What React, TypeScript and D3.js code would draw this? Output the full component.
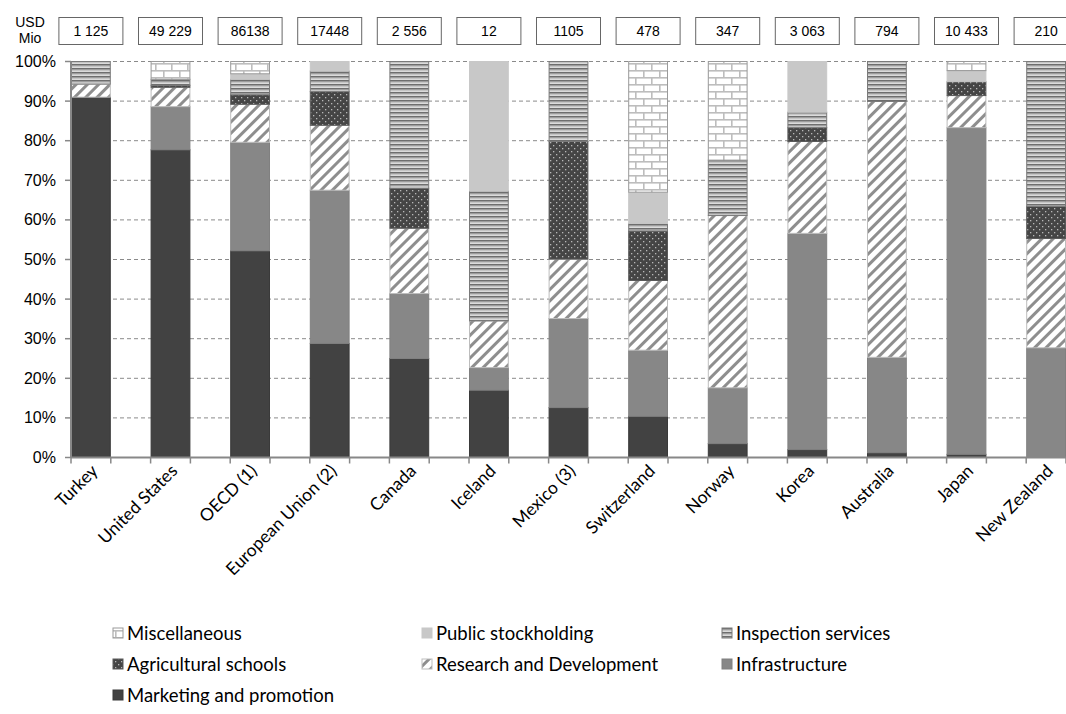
import React from "react";
import * as d3 from "d3";

const categories = ["Turkey", "United States", "OECD (1)", "European Union (2)", "Canada", "Iceland", "Mexico (3)", "Switzerland", "Norway", "Korea", "Australia", "Japan", "New Zealand"];
const totals = ["1 125", "49 229", "86138", "17448", "2 556", "12", "1105", "478", "347", "3 063", "794", "10 433", "210"];

const marketing = [91.0, 77.7, 52.2, 28.8, 25.0, 17.0, 12.6, 10.4, 3.5, 2.0, 1.2, 0.8, 0];
const infrastructure = [0, 10.9, 27.4, 38.7, 16.4, 5.7, 22.5, 16.7, 14.1, 54.6, 24.1, 82.5, 27.7];
const research = [3.3, 4.9, 9.6, 16.4, 16.5, 11.8, 15.0, 17.6, 43.5, 23.2, 64.6, 8.1, 27.6];
const agSchools = [0, 0.5, 2.4, 8.5, 10.1, 0, 29.7, 12.5, 0, 3.5, 0, 3.5, 8.1];
const inspection = [5.7, 1.5, 3.9, 5.2, 32.0, 32.8, 20.2, 1.9, 14.0, 3.9, 10.1, 0, 36.6];
const stockholding = [0, 0, 1.4, 2.4, 0, 32.7, 0, 7.9, 0, 12.8, 0, 2.8, 0];
const misc = [0, 4.5, 3.1, 0, 0, 0, 0, 33.0, 24.9, 0, 0, 2.3, 0];

const yTicks = [0, 10, 20, 30, 40, 50, 60, 70, 80, 90, 100];

const seriesDefs = [
  { key: "marketing", name: "Marketing and promotion", values: marketing, fill: "#424242", stroke: "#3a3a3a" },
  { key: "infrastructure", name: "Infrastructure", values: infrastructure, fill: "#878787", stroke: "#808080" },
  { key: "research", name: "Research and Development", values: research, fill: "url(#pRD)", stroke: "#bdbdbd" },
  { key: "agSchools", name: "Agricultural schools", values: agSchools, fill: "url(#pDots)", stroke: "#5a5a5a" },
  { key: "inspection", name: "Inspection services", values: inspection, fill: "url(#pLines)", stroke: "#7a7a7a" },
  { key: "stockholding", name: "Public stockholding", values: stockholding, fill: "#c8c8c8", stroke: "#c8c8c8" },
  { key: "misc", name: "Miscellaneous", values: misc, fill: "url(#pBrick)", stroke: "#9a9a9a" },
];

const legendOrder = ["misc", "stockholding", "inspection", "agSchools", "research", "infrastructure", "marketing"];

export default function App() {
  const W = 1066, H = 714;
  const x0 = 71;
  const step = 79.6;
  const x = d3.scaleBand<string>().domain(categories).range([x0, x0 + step * categories.length]).paddingInner(0).paddingOuter(0);
  const barW = x.step() / 2;
  const y = d3.scaleLinear().domain([0, 100]).range([457.5, 61.5]);

  const rows = categories.map((c, i) => {
    const r: any = { cat: c };
    seriesDefs.forEach((s) => (r[s.key] = s.values[i]));
    return r;
  });
  const stacked = d3.stack<any>().keys(seriesDefs.map((s) => s.key))(rows);

  const tickXs: number[] = [];
  for (let i = 0; i <= categories.length * 2; i++) {
    const tx = x0 + i * (x.step() / 2);
    if (tx <= W) tickXs.push(tx);
  }

  const legendCols = [113, 422, 722];
  const legendRows = [633, 664, 695];

  return (
    <svg width={W} height={H} style={{ position: "absolute", left: 0, top: 0, background: "#fff" }}>
      <defs>
        <pattern id="pRD" width="8" height="8" patternUnits="userSpaceOnUse" patternTransform="rotate(45)">
          <rect width="8" height="8" fill="#ffffff" />
          <rect x="0" y="0" width="3" height="8" fill="#8e8e8e" />
        </pattern>
        <pattern id="pDots" width="6" height="6" patternUnits="userSpaceOnUse">
          <rect width="6" height="6" fill="#454545" />
          <rect x="1" y="1" width="1.3" height="1.3" fill="#b8b8b8" />
          <rect x="4" y="4" width="1.3" height="1.3" fill="#b8b8b8" />
        </pattern>
        <pattern id="pLines" width="6" height="4" patternUnits="userSpaceOnUse">
          <rect width="6" height="4" fill="#e6e6e6" />
          <rect y="0" width="6" height="1.6" fill="#6e6e6e" />
          <rect y="2.4" width="6" height="0.8" fill="#b0b0b0" />
        </pattern>
        <pattern id="pBrick" width="16" height="14" patternUnits="userSpaceOnUse">
          <rect width="16" height="14" fill="#ffffff" />
          <rect y="0" width="16" height="1.6" fill="#bdbdbd" />
          <rect y="7" width="16" height="1.6" fill="#bdbdbd" />
          <rect x="3" y="0" width="1.6" height="7" fill="#bdbdbd" />
          <rect x="11" y="7" width="1.6" height="7" fill="#bdbdbd" />
        </pattern>
      </defs>

      {/* USD Mio label */}
      <text x={30} y={27} fontFamily="Liberation Sans, Arial, sans-serif" fontSize={14} textAnchor="middle" fill="#000">USD</text>
      <text x={30} y={43} fontFamily="Liberation Sans, Arial, sans-serif" fontSize={14} textAnchor="middle" fill="#000">Mio</text>

      {/* total boxes */}
      {categories.map((c, i) => {
        const cx = (x(c) as number) + barW / 2;
        return (
          <g key={"box" + c}>
            <rect x={cx - 32} y={17.5} width={64} height={27} fill="#fff" stroke="#666" strokeWidth={1} />
            <text x={cx} y={36} textAnchor="middle" fontFamily="Liberation Sans, Arial, sans-serif" fontSize={14} fill="#000">{totals[i]}</text>
          </g>
        );
      })}

      {/* gridlines */}
      {yTicks.filter((t) => t > 0).map((t) => (
        <line key={"g" + t} x1={x0} x2={W} y1={y(t)} y2={y(t)} stroke="#8a8a8a" strokeWidth={1} strokeDasharray="4,3" />
      ))}

      {/* bars */}
      {stacked.map((layer, li) => {
        const s = seriesDefs[li];
        return (
          <g key={s.key}>
            {layer.map((d, i) => {
              const h = y(d[0]) - y(d[1]);
              if (h <= 0.01) return null;
              return (
                <rect key={i} x={(x(categories[i]) as number) + 0.5} y={y(d[1])} width={barW - 1} height={h}
                  fill={s.fill} stroke={s.stroke} strokeWidth={1} />
              );
            })}
          </g>
        );
      })}

      {/* y axis */}
      <line x1={x0} x2={x0} y1={y(100)} y2={y(0)} stroke="#888" strokeWidth={2} />
      {yTicks.map((t) => (
        <g key={"yt" + t}>
          <line x1={x0 - 6} x2={x0} y1={y(t)} y2={y(t)} stroke="#888" strokeWidth={1.5} />
          <text x={56} y={y(t) + 5.5} textAnchor="end" fontFamily="Liberation Sans, Arial, sans-serif" fontSize={16} fill="#000">{t}%</text>
        </g>
      ))}

      {/* x axis */}
      <line x1={x0} x2={W} y1={y(0)} y2={y(0)} stroke="#888" strokeWidth={2} />
      {tickXs.map((tx, i) => (
        <line key={"xt" + i} x1={tx} x2={tx} y1={y(0)} y2={y(0) + 6} stroke="#888" strokeWidth={1.5} />
      ))}

      {/* category labels */}
      {categories.map((c) => {
        const cx = (x(c) as number) + barW / 2 + 8;
        const ly = 472;
        return (
          <text key={"lab" + c} x={cx} y={ly} transform={`rotate(-45 ${cx} ${ly})`} textAnchor="end"
            fontFamily="Lato, sans-serif" fontSize={17.5} fill="#000">{c}</text>
        );
      })}

      {/* legend */}
      {legendOrder.map((k, i) => {
        const s = seriesDefs.find((d) => d.key === k)!;
        const lx = legendCols[i % 3];
        const ly = legendRows[Math.floor(i / 3)];
        return (
          <g key={"leg" + k}>
            <rect x={lx} y={ly - 5} width={10} height={10} fill={s.fill} stroke={s.stroke} strokeWidth={1} />
            <text x={lx + 14} y={ly + 6.5} fontFamily="Lato, sans-serif" fontSize={18.5} fill="#000">{s.name}</text>
          </g>
        );
      })}
    </svg>
  );
}
